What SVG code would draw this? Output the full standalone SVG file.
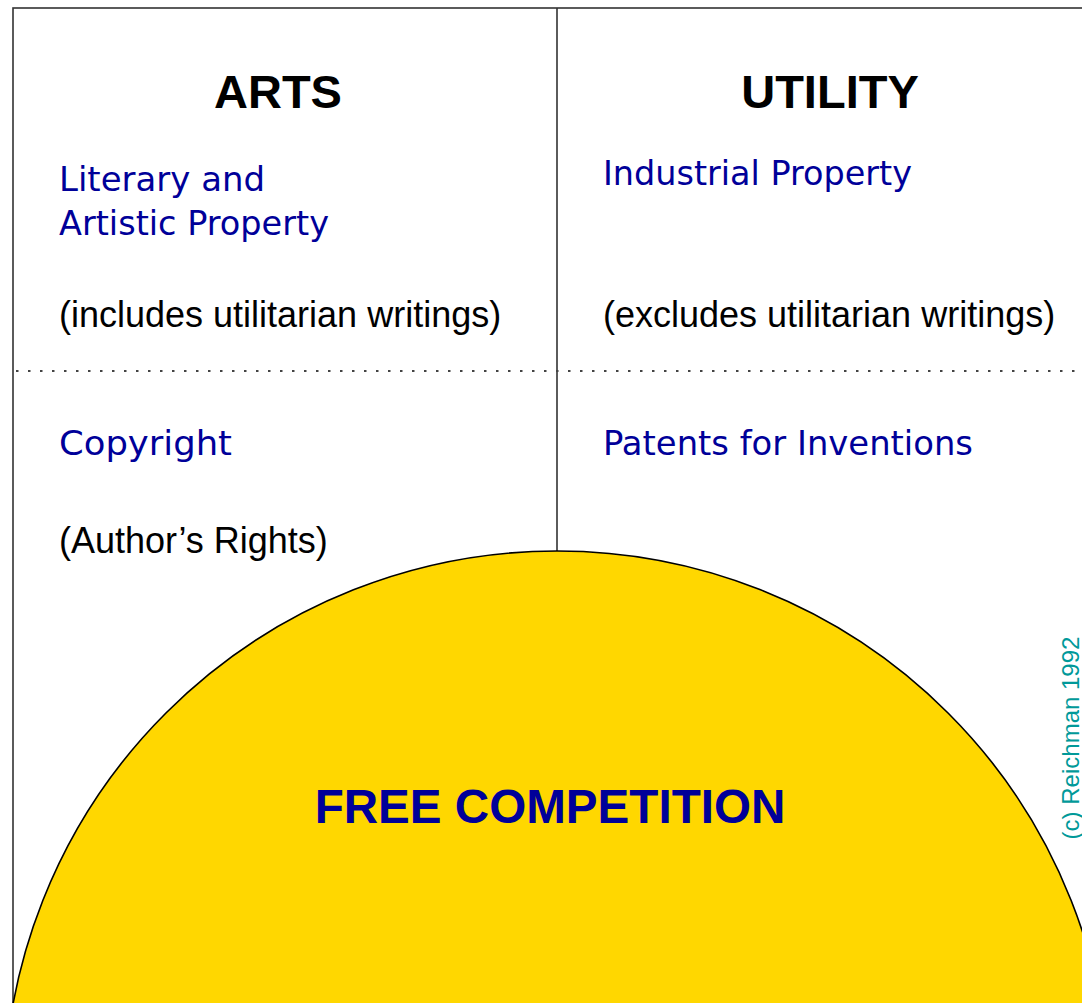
<svg xmlns="http://www.w3.org/2000/svg" width="1082" height="1003" viewBox="0 0 1082 1003">
<style>
.head{font-family:"Liberation Sans",Arial,sans-serif;font-weight:bold;font-size:47px;fill:#000}
.blue{font-family:"DejaVu Sans","Liberation Sans",sans-serif;font-size:33px;fill:#000099}
.note{font-family:"Liberation Sans",Arial,sans-serif;font-size:36px;fill:#000}
.line{stroke:#333;stroke-width:1.6;fill:none}
</style>
<rect width="1082" height="1003" fill="#fff"/>
<g id="frame">
<rect class="line" x="13" y="8" width="1100" height="1100"/>
<line class="line" x1="557" y1="8" x2="557" y2="552"/>
<line x1="16" y1="371" x2="1082" y2="371" stroke="#444" stroke-width="2" stroke-dasharray="2.5 9.5"/>
</g>
<g id="free-competition">
<circle cx="557" cy="1104" r="553" fill="#FFD700" stroke="#000" stroke-width="1.6"/>
<text x="550" y="823" text-anchor="middle" class="head" style="fill:#000099;font-size:47.6px">FREE COMPETITION</text>
</g>
<g id="arts">
<text x="278" y="108" text-anchor="middle" class="head">ARTS</text>
<text x="59" y="191" class="blue" textLength="206" lengthAdjust="spacingAndGlyphs">Literary and</text>
<text x="59" y="235" class="blue" textLength="270" lengthAdjust="spacingAndGlyphs">Artistic Property</text>
<text x="59" y="327" class="note">(includes utilitarian writings)</text>
<text x="59" y="455" class="blue" textLength="173" lengthAdjust="spacingAndGlyphs">Copyright</text>
<text x="59" y="553" class="note">(Author’s Rights)</text>
</g>
<g id="utility">
<text x="830" y="108" text-anchor="middle" class="head">UTILITY</text>
<text x="603" y="185" class="blue" textLength="309" lengthAdjust="spacingAndGlyphs">Industrial Property</text>
<text x="603" y="327" class="note">(excludes utilitarian writings)</text>
<text x="603" y="455" class="blue" textLength="370" lengthAdjust="spacingAndGlyphs">Patents for Inventions</text>
</g>
<g id="credit">
<text transform="translate(1079,738) rotate(-90)" text-anchor="middle" style="font-family:'Liberation Sans',Arial,sans-serif;font-size:24px;fill:#009999">(c) Reichman 1992</text>
</g>
<g id="connectors"/>
</svg>
